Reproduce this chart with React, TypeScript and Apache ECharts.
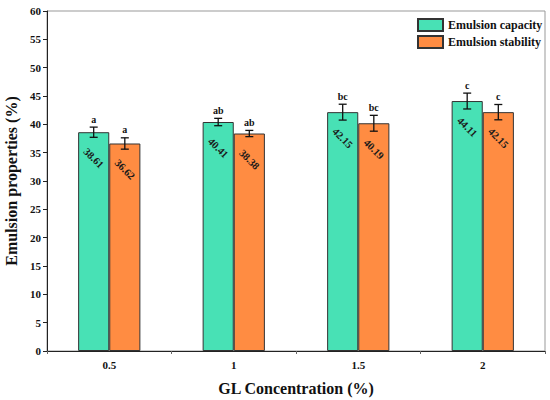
import React, { useEffect, useRef } from "react";
import * as echarts from "echarts";

const categories = ["0.5", "1", "1.5", "2"];
const capacity = [38.61, 40.41, 42.15, 44.11];
const stability = [36.62, 38.38, 40.19, 42.15];
const capacityErr = [0.9, 0.65, 1.4, 1.4];
const stabilityErr = [1.0, 0.55, 1.4, 1.35];
const capacityLetters = ["a", "ab", "bc", "c"];
const stabilityLetters = ["a", "ab", "bc", "c"];
const yTicks = { min: 0, max: 60, interval: 5 };

const FONT = "Liberation Serif";
const GREEN = "#48E1B5";
const ORANGE = "#FF8C42";

function errorSeries(name: string, values: number[], errs: number[], letters: string[], side: number) {
  return {
    type: "custom",
    name: name + " err",
    silent: true,
    z: 5,
    data: values.map((v, i) => [i, v, errs[i]]),
    renderItem: (params: any, api: any) => {
      const idx = api.value(0);
      const v = api.value(1);
      const e = api.value(2);
      const letter = letters[params.dataIndex];
      const band = api.size([1, 0])[0];
      const off = side * band * 0.125;
      const top = api.coord([idx, v + e]);
      const bot = api.coord([idx, v - e]);
      const x = top[0] + off;
      const cap = 4;
      const style = { stroke: "#111", lineWidth: 1.3 };
      return {
        type: "group",
        children: [
          { type: "line", shape: { x1: x, y1: top[1], x2: x, y2: bot[1] }, style },
          { type: "line", shape: { x1: x - cap, y1: top[1], x2: x + cap, y2: top[1] }, style },
          { type: "line", shape: { x1: x - cap, y1: bot[1], x2: x + cap, y2: bot[1] }, style },
          {
            type: "text",
            x: x,
            y: top[1] - 3,
            style: {
              text: letter,
              fill: "#111",
              font: `bold 10px "${FONT}"`,
              align: "center",
              verticalAlign: "bottom",
            },
          },
        ],
      };
    },
  };
}

export default function App() {
  const ref = useRef<HTMLDivElement>(null);
  useEffect(() => {
    document.body.style.margin = "0";
    const chart = echarts.init(ref.current!, null, { renderer: "svg" });
    const barLabel = {
      show: true,
      position: ["50%", 26],
      rotate: -45,
      align: "center",
      verticalAlign: "middle",
      color: "#1a1a1a",
      fontFamily: FONT,
      fontWeight: "bold",
      fontSize: 10.5,
      formatter: (p: any) => p.value.toFixed(2),
    };
    chart.setOption({
      animation: false,
      backgroundColor: "#fff",
      textStyle: { fontFamily: FONT },
      grid: {
        left: 47,
        right: 5,
        top: 11,
        bottom: 49,
        outerBoundsMode: "none",
        containLabel: false,
        show: true,
        borderColor: "#999",
        borderWidth: 1,
      },
      legend: {
        orient: "vertical",
        left: 412,
        top: 13,
        itemWidth: 25,
        itemHeight: 12,
        itemGap: 3,
        icon: "rect",
        data: ["Emulsion capacity", "Emulsion stability"],
        textStyle: { fontFamily: FONT, fontWeight: "bold", fontSize: 12, color: "#111" },
      },
      xAxis: {
        type: "category",
        data: categories,
        name: "GL Concentration (%)",
        nameLocation: "middle",
        nameGap: 29,
        nameTextStyle: { fontFamily: FONT, fontWeight: "bold", fontSize: 16, color: "#111" },
        axisLine: { lineStyle: { color: "#222", width: 1 } },
        axisTick: { show: true, length: 3, lineStyle: { color: "#666" } },
        axisLabel: { fontFamily: FONT, fontWeight: "bold", fontSize: 11, color: "#111", margin: 8 },
      },
      yAxis: {
        type: "value",
        min: yTicks.min,
        max: yTicks.max,
        interval: yTicks.interval,
        name: "Emulsion properties (%)",
        nameLocation: "middle",
        nameGap: 28,
        nameTextStyle: { fontFamily: FONT, fontWeight: "bold", fontSize: 16, color: "#111" },
        axisLine: { show: true, lineStyle: { color: "#222", width: 1 } },
        axisTick: { show: true, length: 4, lineStyle: { color: "#222" } },
        axisLabel: { fontFamily: FONT, fontWeight: "bold", fontSize: 11, color: "#111", margin: 6 },
        splitLine: { show: false },
      },
      series: [
        {
          type: "bar",
          name: "Emulsion capacity",
          data: capacity,
          barGap: "0%",
          barCategoryGap: "50%",
          itemStyle: { color: GREEN, borderColor: "#333", borderWidth: 1 },
          label: barLabel,
        },
        {
          type: "bar",
          name: "Emulsion stability",
          data: stability,
          barGap: "0%",
          barCategoryGap: "50%",
          itemStyle: { color: ORANGE, borderColor: "#333", borderWidth: 1 },
          label: barLabel,
        },
        errorSeries("Emulsion capacity", capacity, capacityErr, capacityLetters, -1),
        errorSeries("Emulsion stability", stability, stabilityErr, stabilityLetters, 1),
      ],
    });
    return () => chart.dispose();
  }, []);
  return <div ref={ref} style={{ position: "absolute", left: 0, top: 0, width: 550, height: 400 }} />;
}
